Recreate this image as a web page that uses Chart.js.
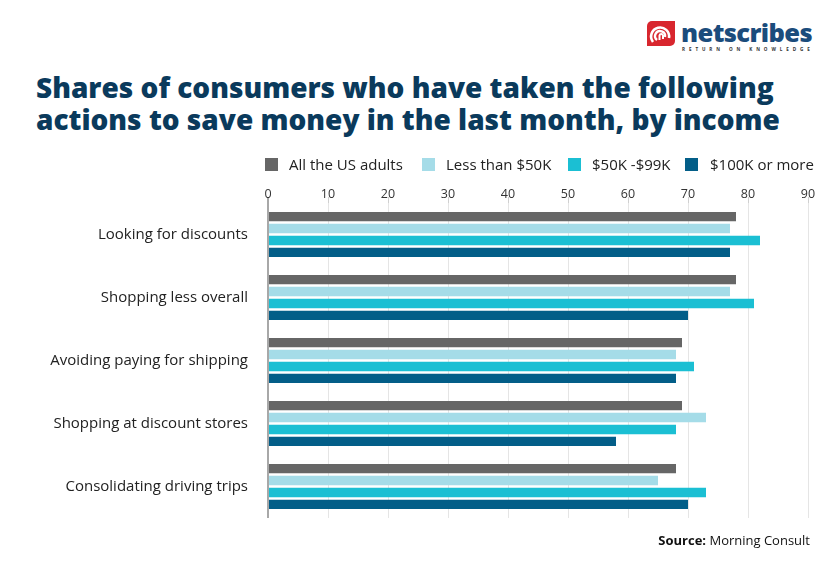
<!DOCTYPE html>
<html>
<head>
<meta charset="utf-8">
<script src="https://cdn.jsdelivr.net/npm/chart.js@4"></script>
<style>
  html, body { margin: 0; padding: 0; }
  body { width: 840px; height: 567px; background: #fff; position: relative; overflow: hidden; font-family: "Open Sans", sans-serif; }
  #title { position: absolute; left: 36px; top: 71px; font-weight: 800; font-size: 28px; line-height: 32px; color: #0a3a5c; white-space: nowrap; }
  #chartWrap { position: absolute; left: 0; top: 0; width: 840px; height: 567px; }
  .leg { position: absolute; top: 155px; height: 18px; font-size: 15px; color: #222; line-height: 18px; white-space: nowrap; }
  .sw { position: absolute; top: 158px; width: 13px; height: 13px; }
  #source { position: absolute; right: 30px; top: 531px; font-size: 13px; color: #111; white-space: nowrap; }
  #logo { position: absolute; left: 647px; top: 20px; width: 170px; height: 34px; }
  #logoBox { position: absolute; left: 0; top: 1px; width: 28px; height: 25px; background: #d8262e; border-radius: 5px 0 5px 0; }
  #logoText { position: absolute; left: 34px; top: -5px; font-weight: 800; font-size: 25.5px; letter-spacing: -0.6px; color: #1b4c7c; font-family: "Open Sans", sans-serif; }
  #logoTag { position: absolute; left: 35px; top: 26px; font-size: 4.6px; letter-spacing: 3.9px; color: #333; font-weight: 700; white-space: nowrap; }
</style>
</head>
<body>
<div id="logo">
  <div id="logoBox">
    <svg width="28" height="25" viewBox="0 0 28 25">
      <path d="M6 21 A9 9 0 1 1 22 17" stroke="#fff" stroke-width="2.6" fill="none"/>
      <path d="M10 19 A5 5 0 1 1 18 16" stroke="#fff" stroke-width="2.4" fill="none"/>
      <path d="M12.5 19 L12.5 14.5 A1.8 1.8 0 0 1 16 14.5 L16 18" stroke="#fff" stroke-width="2" fill="none"/>
    </svg>
  </div>
  <div id="logoText">netscribes</div>
  <div id="logoTag">RETURN ON KNOWLEDGE</div>
</div>
<div id="title">Shares of consumers who have taken the following<br>actions to save money in the last month, by income</div>
<div id="chartWrap"><canvas id="c" width="840" height="567"></canvas></div>
<div id="legend"></div>
<div id="source"><b>Source:</b> Morning Consult</div>
<script>
const categories = [
  "Looking for discounts",
  "Shopping less overall",
  "Avoiding paying for shipping",
  "Shopping at discount stores",
  "Consolidating driving trips"
];
const seriesNames = ["All the US adults", "Less than $50K", "$50K -$99K", "$100K or more"];
const allUsAdults = [78, 78, 69, 69, 68];
const lessThan50K = [77, 77, 68, 73, 65];
const from50Kto99K = [82, 81, 71, 68, 73];
const over100K = [77, 70, 68, 58, 70];
const xTickMin = 0, xTickMax = 90, xTickStep = 10;

const colors = ["#666666", "#a5dce8", "#1bbfd3", "#035e88"];
const seriesValues = [allUsAdults, lessThan50K, from50Kto99K, over100K];

// HTML legend
const legendPos = [[265, 289], [422, 446], [568, 592], [685, 710]];
const legendEl = document.getElementById('legend');
seriesNames.forEach((name, i) => {
  const sw = document.createElement('div');
  sw.className = 'sw';
  sw.style.left = legendPos[i][0] + 'px';
  sw.style.background = colors[i];
  legendEl.appendChild(sw);
  const t = document.createElement('div');
  t.className = 'leg';
  t.style.left = legendPos[i][1] + 'px';
  t.textContent = name;
  legendEl.appendChild(t);
});

new Chart(document.getElementById('c'), {
  type: 'bar',
  data: {
    labels: categories,
    datasets: seriesNames.map((n, i) => ({
      label: n,
      data: seriesValues[i],
      backgroundColor: colors[i],
      borderWidth: 0,
      categoryPercentage: 0.76,
      barPercentage: 0.78
    }))
  },
  options: {
    indexAxis: 'y',
    responsive: false,
    animation: false,
    events: [],
    layout: { padding: { top: 0, right: 32, bottom: 49, left: 0 } },
    plugins: { legend: { display: false }, tooltip: { enabled: false } },
    scales: {
      x: {
        position: 'top',
        min: xTickMin,
        max: xTickMax,
        ticks: {
          stepSize: xTickStep,
          color: '#333',
          font: { family: 'Open Sans', size: 12.5 },
          padding: -5
        },
        grid: {
          color: ctx => (ctx.tick && ctx.tick.value === 0) ? '#a8a8a8' : '#e5e5e5',
          lineWidth: ctx => (ctx.tick && ctx.tick.value === 0) ? 2 : 1,
          tickColor: ctx => (ctx.tick && ctx.tick.value === 0) ? '#a8a8a8' : '#d0d0d0',
          tickLength: 6,
          drawTicks: true
        },
        border: { display: false },
        afterFit: s => { s.height = 203; }
      },
      y: {
        grid: { display: false, drawTicks: false },
        border: { display: false },
        ticks: {
          color: '#222',
          font: { family: 'Open Sans', size: 15 },
          padding: 20
        },
        afterFit: s => { s.width = 268; }
      }
    }
  }
});
</script>
</body>
</html>
